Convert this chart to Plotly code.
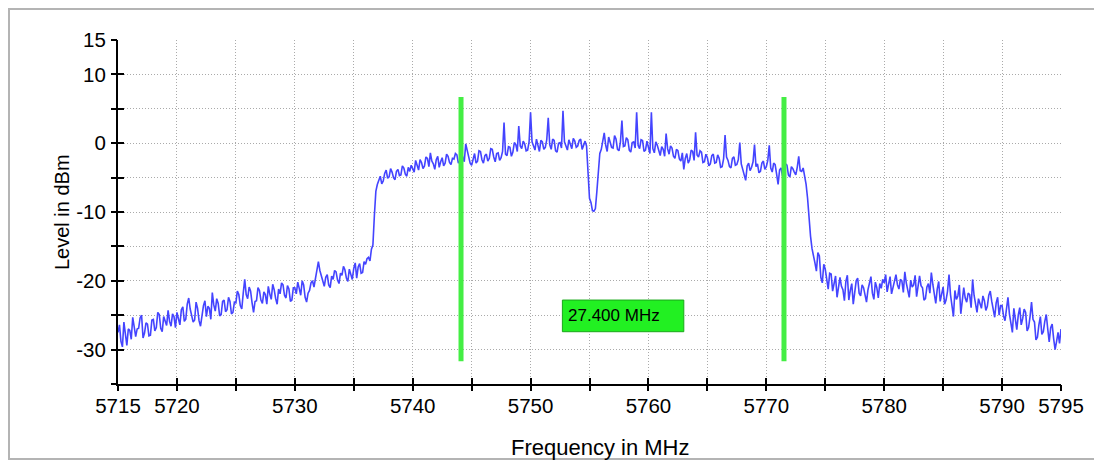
import numpy as np
import plotly.graph_objects as go

# ---------------- data ----------------
freq_start = 5715.0
freq_step = 0.125  # MHz between samples

level_dbm = [
    # 5715 - 5719.875
    -27.5, -26.4, -28.8, -29.6, -26.0, -27.8, -29.4, -27.0, -27.2, -28.5,
    -25.3, -26.7, -28.1, -27.0, -26.9, -25.4, -25.0, -28.3, -27.6, -26.1,
    -26.3, -28.0, -27.9, -25.7, -25.6, -27.3, -26.8, -24.6, -24.9, -26.9,
    -27.4, -25.2, -25.8, -26.5, -24.3, -25.9, -26.6, -24.8, -25.2, -26.8,
    # 5720 - 5724.875
    -24.6, -25.5, -26.4, -24.2, -23.8, -25.9, -25.6, -23.4, -22.5, -24.1,
    -24.9, -26.0, -25.7, -23.1, -24.0, -25.8, -26.6, -24.7, -23.6, -22.9,
    -25.2, -23.7, -24.0, -25.6, -21.7, -23.5, -24.4, -22.6, -23.3, -25.1,
    -24.9, -23.0, -22.8, -24.5, -24.2, -22.4, -23.0, -24.8, -24.6, -23.1,
    # 5725 - 5729.875
    -23.2, -21.5, -22.0, -23.6, -24.1, -21.8, -19.8, -22.0, -22.6, -20.9,
    -21.5, -23.2, -24.6, -23.0, -22.9, -21.0, -21.4, -22.8, -23.3, -21.6,
    -22.0, -23.4, -20.8, -21.9, -22.7, -20.5, -21.3, -22.6, -23.4, -21.2,
    -21.9, -20.3, -20.6, -22.1, -22.5, -20.7, -21.2, -23.0, -22.8, -21.0,
    # 5730 - 5734.875
    -21.0, -21.9, -20.2, -21.1, -22.1, -20.0, -20.6, -22.4, -23.1, -21.8,
    -21.4, -20.3, -20.0, -20.9, -19.6, -18.6, -17.2, -18.5, -19.4, -20.2,
    -20.8, -19.5, -19.1, -20.6, -21.0, -19.3, -19.8, -18.5, -18.7, -19.9,
    -20.4, -18.9, -19.2, -17.9, -18.4, -19.6, -20.1, -18.3, -18.9, -19.8,
    # 5735 - 5739.875
    -18.2, -17.4, -19.6, -18.0, -17.5, -18.9, -18.8, -17.2, -17.6, -16.8,
    -16.6, -17.1, -15.4, -14.8, -10.5, -7.0, -6.0, -5.2, -4.8, -5.9,
    -5.5, -4.4, -3.9, -5.1, -4.9, -3.7, -4.2, -5.0, -5.3, -4.1,
    -3.8, -4.7, -4.6, -3.3, -3.6, -4.5, -4.8, -3.5, -4.1, -3.2,
    # 5740 - 5744.875
    -3.6, -4.2, -2.5, -3.1, -3.9, -2.4, -2.8, -3.7, -3.3, -2.0,
    -2.2, -3.4, -1.4, -2.6, -3.0, -3.8, -2.4, -1.9, -3.5, -2.7,
    -2.1, -3.3, -2.9, -1.6, -1.9, -2.8, -3.1, -2.2, -2.3, -1.5,
    -1.7, -2.9, -2.6, -1.4, -2.0, -2.7, -0.1, -1.2, -1.8, -2.9,
    # 5745 - 5749.875
    -3.2, -2.3, -1.5, -2.9, -2.6, -1.1, -1.2, -2.4, -2.9, -1.8,
    -1.6, -2.6, -2.2, -0.8, -0.9, -2.0, -2.7, -1.5, -1.4, -2.5,
    -2.1, -1.2, 3.0, -1.6, -1.8, -0.5, -0.6, -1.9, -1.3, 0.1,
    -0.2, -1.2, 2.5, -0.4, -0.8, 0.3, -0.1, -1.1, -1.0, 0.2,
    # 5750 - 5754.875
    4.5, 0.2, -0.3, -1.0, 0.6, -0.5, -1.2, 0.4, 0.2, -0.9,
    -0.6, 0.5, 3.7, -0.2, -0.9, 0.6, 0.4, -1.1, -1.3, 0.0,
    0.1, -0.7, 4.7, 0.2, -0.5, -1.0, 0.5, -0.3, -0.8, 0.7,
    0.3, -0.6, -0.4, 0.4, 0.6, -0.9, -0.2, 0.3, -0.4, -5.5,
    # 5755 - 5759.875
    -8.0, -8.6, -9.8, -9.9, -9.5, -7.0, -4.2, -1.5, -0.9, 0.4,
    1.5, -0.3, -1.2, 0.9, 0.3, -0.6, -0.7, 1.1, 0.6, -0.9,
    -1.1, 0.2, 3.3, -0.5, -0.4, 0.8, 0.5, -1.0, -1.3, 0.1,
    0.2, -0.7, 4.5, -0.3, -0.8, 0.5, 0.4, -1.2, -1.0, 0.3,
    # 5760 - 5764.875
    -0.6, -1.5, 4.5, -0.8, -1.4, 0.2, -0.3, -1.2, -1.8, -0.5,
    -0.9, -1.9, 1.4, -0.8, -1.6, -0.4, -0.7, -1.9, -2.2, -0.9,
    -1.1, -2.3, -2.6, -1.4, -3.8, -2.2, -1.5, -2.9, -2.4, -1.0,
    -1.2, -2.5, 1.6, -1.7, -2.0, -1.1, -1.3, -2.8, -2.7, -1.6,
    # 5765 - 5769.875
    -2.1, -3.3, -3.0, -1.8, -1.6, -2.9, -2.8, -1.7, -2.2, -3.5,
    -3.4, -2.3, 1.2, -2.0, -2.5, -3.4, -3.6, -2.2, -2.0, -3.2,
    -3.1, -2.4, 0.1, -3.0, -3.8, -4.6, -5.4, -3.3, -2.9, -4.0,
    -3.5, -2.7, -0.2, -3.4, -3.0, -4.3, -4.1, -2.9, -2.6, -3.8,
    # 5770 - 5774.875
    -3.4, -2.5, -0.3, -3.6, -4.2, -2.9, -3.1, -4.5, -6.0, -3.9,
    -3.6, -4.8, -4.4, -3.0, -3.2, -4.6, -4.9, -3.4, -3.7, -4.2,
    -4.6, -3.5, -1.9, -4.0, -4.1, -3.6, -4.7, -6.0, -8.0, -11.5,
    -13.5, -15.3, -16.2, -17.4, -18.6, -15.9, -16.4, -19.5, -20.3, -17.6,
    # 5775 - 5779.875
    -18.3, -20.1, -21.2, -18.9, -19.0, -21.5, -20.6, -19.3, -22.4, -21.0,
    -19.5, -20.8, -21.3, -22.9, -20.1, -19.2, -22.8, -21.4, -20.4, -23.4,
    -21.7, -20.0, -19.6, -21.8, -22.2, -20.6, -21.0, -22.4, -23.1, -21.3,
    -20.5, -19.4, -21.8, -22.7, -20.2, -21.0, -22.5, -20.4, -21.1, -19.8,
    # 5780 - 5784.875
    -20.3, -19.1, -21.6, -20.5, -19.4, -21.9, -20.8, -19.7, -19.1, -20.6,
    -21.2, -19.8, -20.0, -21.7, -18.7, -20.3, -21.5, -22.4, -19.9, -20.9,
    -20.6, -19.2, -22.3, -21.1, -19.3, -20.7, -21.0, -22.8, -22.6, -20.9,
    -20.4, -21.8, -18.8, -20.5, -22.0, -23.3, -21.2, -20.1, -23.0, -21.7,
    # 5785 - 5789.875
    -20.9, -23.4, -22.8, -21.5, -19.1, -22.0, -23.6, -25.2, -21.4, -22.7,
    -22.2, -20.6, -24.8, -23.0, -21.0, -22.5, -23.1, -21.8, -22.0, -23.9,
    -19.8, -22.1, -23.5, -24.6, -22.6, -23.3, -24.0, -22.2, -22.9, -24.3,
    -23.7, -22.1, -21.5, -23.0, -24.4, -25.3, -23.2, -22.4, -25.0, -23.6,
    # 5790 - 5794.875
    -23.6, -25.1, -25.8, -24.2, -22.4, -24.8, -26.2, -27.5, -24.0, -25.7,
    -27.1, -25.0, -23.9, -26.4, -25.5, -24.1, -24.6, -27.3, -26.8, -25.2,
    -23.1, -25.6, -26.0, -28.6, -28.2, -26.4, -25.2, -27.8, -27.4, -25.9,
    -24.9, -27.0, -28.9, -26.8, -26.3, -28.4, -30.0, -28.8, -27.5, -29.1,
    # 5795
    -27.0,
]

freq_mhz = freq_start + freq_step * np.arange(len(level_dbm))

marker_freqs = [5744.1, 5771.5]
marker_top = 6.7
marker_bottom = -31.7

label_text = "27.400 MHz"
label_box_x = [5752.7, 5763.0]
label_box_y = [-27.4, -22.8]

x_tick_vals = [5715, 5720, 5725, 5730, 5735, 5740, 5745, 5750, 5755,
               5760, 5765, 5770, 5775, 5780, 5785, 5790, 5795]
x_tick_text = ["5715", "5720", "", "5730", "", "5740", "", "5750", "",
               "5760", "", "5770", "", "5780", "", "5790", "5795"]
y_tick_vals = [-35, -30, -25, -20, -15, -10, -5, 0, 5, 10, 15]
y_tick_text = ["", "-30", "", "-20", "", "-10", "", "0", "", "10", "15"]

x_range = [5715, 5795]
y_range = [-35, 15]

# ---------------- figure ----------------
FONT = "Liberation Sans, Arial, sans-serif"
# the page body adds an 8 px margin, so the figure is 8 px smaller each way
W, H = 1094, 453
ML, MR, MT, MB = 110, 41, 32, 77
PW, PH = W - ML - MR, H - MT - MB

fig = go.Figure()

fig.add_trace(go.Scatter(
    x=freq_mhz, y=level_dbm, mode="lines",
    line=dict(color="#4444ff", width=1.6),
    hoverinfo="x+y", showlegend=False,
))

for f in marker_freqs:
    fig.add_trace(go.Scatter(
        x=[f, f], y=[marker_bottom, marker_top], mode="lines",
        line=dict(color="#44ee44", width=5),
        xaxis="x2", yaxis="y2", showlegend=False, hoverinfo="skip",
    ))

grid_common = dict(showgrid=True, gridcolor="#aaaaaa", gridwidth=1, griddash="1px,2px")

fig.update_layout(
    width=W, height=H,
    margin=dict(l=ML, r=MR, t=MT, b=MB, pad=0),
    paper_bgcolor="white", plot_bgcolor="white",
    font=dict(family=FONT, size=20, color="black"),
    xaxis=dict(
        range=x_range, tickmode="array", tickvals=x_tick_vals, ticktext=x_tick_text,
        ticks="inside", ticklen=6, tickwidth=2, tickcolor="black",
        showline=True, linecolor="black", linewidth=2,
        zeroline=False, ticklabelstandoff=2,
        tickfont=dict(family=FONT, size=20.5, color="black"),
        **grid_common,
    ),
    yaxis=dict(
        range=y_range, tickmode="array", tickvals=y_tick_vals, ticktext=y_tick_text,
        ticks="inside", ticklen=6, tickwidth=2, tickcolor="black",
        showline=True, linecolor="black", linewidth=2,
        zeroline=False, ticklabelstandoff=6,
        tickfont=dict(family=FONT, size=20.5, color="black"),
        **grid_common,
    ),
    xaxis2=dict(
        range=x_range, overlaying="x", anchor="y", side="bottom",
        tickmode="array", tickvals=x_tick_vals, showticklabels=False,
        ticks="outside", ticklen=6, tickwidth=2, tickcolor="black",
        showgrid=False, showline=False, zeroline=False,
    ),
    yaxis2=dict(
        range=y_range, overlaying="y", anchor="x", side="left",
        tickmode="array", tickvals=y_tick_vals, showticklabels=False,
        ticks="outside", ticklen=6, tickwidth=2, tickcolor="black",
        showgrid=False, showline=False, zeroline=False,
    ),
)

# label box
fig.add_shape(type="rect", xref="x", yref="y",
              x0=label_box_x[0], x1=label_box_x[1], y0=label_box_y[0], y1=label_box_y[1],
              fillcolor="#22f022", line=dict(color="#1aa81a", width=1), layer="above")
fig.add_annotation(x=label_box_x[0] + 0.3, y=(label_box_y[0] + label_box_y[1]) / 2,
                   xref="x", yref="y", text=label_text, showarrow=False,
                   xanchor="left", yanchor="middle",
                   font=dict(family=FONT, size=17, color="black"))

# axis titles (pixel positions in figure coordinates)
fig.add_annotation(text="Frequency in MHz", xref="paper", yref="paper",
                   x=(592 - ML) / PW, y=(MT + PH - 439) / PH,
                   showarrow=False, xanchor="center", yanchor="middle",
                   font=dict(family=FONT, size=22, color="black"))
fig.add_annotation(text="Level in dBm", xref="paper", yref="paper",
                   x=(54 - ML) / PW, y=0.5, textangle=-90,
                   showarrow=False, xanchor="center", yanchor="middle",
                   font=dict(family=FONT, size=20, color="black"))

# outer frame
fig.add_shape(type="rect", xref="paper", yref="paper",
              x0=(1 - ML) / PW, x1=(1092 - ML) / PW,
              y0=(MT + PH - 451) / PH, y1=(MT + PH - 1) / PH,
              line=dict(color="#b4b4b4", width=2), fillcolor="rgba(0,0,0,0)", layer="below")

fig.write_html("out.html")
